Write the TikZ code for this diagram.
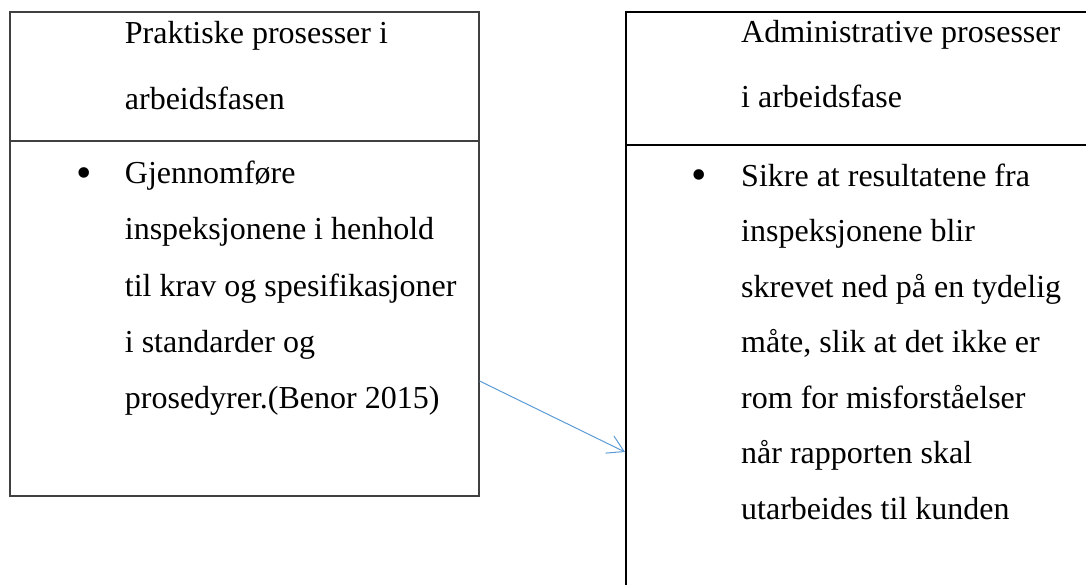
\documentclass[tikz,border=0pt]{standalone}
\usepackage{fontspec}
\setmainfont{Liberation Serif}
\usetikzlibrary{arrows.meta,calc}
\definecolor{arrowblue}{HTML}{5B9BD5}
\definecolor{framegray}{HTML}{404040}
\begin{document}
\begin{tikzpicture}[x=1pt,y=-1pt,
  leftframe/.style={rectangle,draw=framegray,line width=1.6pt,inner sep=0pt,anchor=north west},
  rightframe/.style={rectangle,draw=black,line width=1.6pt,inner sep=0pt,anchor=north west},
  txt/.style={anchor=base west,inner sep=0pt,font=\fontsize{32}{38}\selectfont},
  bul/.style={anchor=base,inner sep=0pt,font=\fontsize{44}{50}\selectfont},
  link/.style={draw=arrowblue,line width=1pt,-{Straight Barb[length=16pt,width=19pt]}}]
\useasboundingbox (0,0) rectangle (1086,584);
\clip (0,0) rectangle (1086,584);

% left table: header and body cells
\node[leftframe,minimum width=469pt,minimum height=129pt] (lhead) at (9,11) {};
\node[leftframe,minimum width=469pt,minimum height=355pt] (lbody) at (9,140) {};

% right table: header and body cells
\node[rightframe,minimum width=470pt,minimum height=133pt] (rhead) at (625,11) {};
\node[rightframe,minimum width=470pt,minimum height=500pt] (rbody) at (625,144) {};

% left texts
\node[txt] (lt1) at (124.7,43) {Praktiske prosesser i};
\node[txt] (lt2) at (124.7,109) {arbeidsfasen};
\node[bul] (lb) at (84.4,187) {•};
\node[txt] (lb1) at (124.7,183) {Gjennomføre};
\node[txt] (lb2) at (124.7,239.5) {inspeksjonene i henhold};
\node[txt] (lb3) at (124.7,296) {til krav og spesifikasjoner};
\node[txt] (lb4) at (124.7,352) {i standarder og};
\node[txt] (lb5) at (124.7,408) {prosedyrer.(Benor 2015)};

% right texts
\node[txt] (rt1) at (741,42) {Administrative prosesser};
\node[txt] (rt2) at (741,107) {i arbeidsfase};
\node[bul] (rb) at (699.2,189.3) {•};
\node[txt] (rb1) at (741,186) {Sikre at resultatene fra};
\node[txt] (rb2) at (741,241.5) {inspeksjonene blir};
\node[txt] (rb3) at (741,297) {skrevet ned på en tydelig};
\node[txt] (rb4) at (741,352.5) {måte, slik at det ikke er};
\node[txt] (rb5) at (741,408) {rom for misforståelser};
\node[txt] (rb6) at (741,463.5) {når rapporten skal};
\node[txt] (rb7) at (741,519) {utarbeides til kunden};

% connector between the two tables
\draw[link] ($(lbody.north east)+(0,241)$) -- ($(rbody.north west)+(0,308)$);
\end{tikzpicture}
\end{document}
